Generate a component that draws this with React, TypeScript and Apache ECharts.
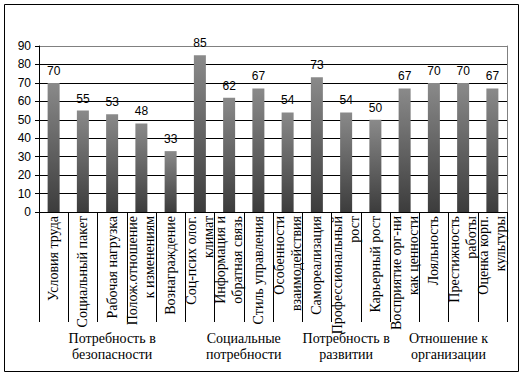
import React, { useEffect, useRef } from "react";
import * as echarts from "echarts";

const categories = [
  "Условия труда",
  "Социальный пакет",
  "Рабочая нагрузка",
  "Полож.отношение\nк изменениям",
  "Вознаграждение",
  "Соц-псих олог.\nклимат",
  "Информация и\nобратная связь",
  "Стиль управления",
  "Особенности\nвзаимодействия",
  "Самореализация",
  "Профессиональный\nрост",
  "Карьерный рост",
  "Восприятие орг-ни\nкак ценности",
  "Лояльность",
  "Престижность\nработы",
  "Оценка корп.\nкультуры",
];
const values = [70, 55, 53, 48, 33, 85, 62, 67, 54, 73, 54, 50, 67, 70, 70, 67];
const groupNames = [
  "Потребность в\nбезопасности",
  "Социальные\nпотребности",
  "Потребность в\nразвитии",
  "Отношение к\nорганизации",
];
const groupSizes = [5, 4, 3, 4];
const yTicks = [0, 10, 20, 30, 40, 50, 60, 70, 80, 90];

const SERIF = "Liberation Serif";
const SANS = "Liberation Sans";

export default function App() {
  const ref = useRef<HTMLDivElement>(null);
  useEffect(() => {
    document.body.style.margin = "0";
    if (!ref.current) return;
    const chart = echarts.init(ref.current, undefined, { renderer: "svg" });

    const n = categories.length;
    const halfData: string[] = new Array(2 * n + 1).fill("");
    const boundaryIdx: number[] = [0];
    let start = 0;
    groupSizes.forEach((s, i) => {
      const mid = start + s / 2;
      halfData[Math.round(mid * 2)] = groupNames[i];
      start += s;
      boundaryIdx.push(start * 2);
    });

    const splitColors = yTicks.map((t, i) => (i === yTicks.length - 1 ? "#808080" : "#000000"));

    chart.setOption({
      animation: false,
      graphic: [
        {
          type: "rect",
          shape: { x: 4.5, y: 4.5, width: 514, height: 367 },
          style: { fill: "none", stroke: "#000", lineWidth: 1 },
          silent: true,
        },
      ],
      grid: { left: 39, right: 17, top: 46, bottom: 164, containLabel: false },
      xAxis: [
        {
          type: "category",
          data: categories,
          position: "bottom",
          axisLine: { show: true, lineStyle: { color: "#000", width: 1 } },
          axisTick: { show: true, interval: 0, length: 110, lineStyle: { color: "#000" } },
          axisLabel: {
            interval: 0,
            rotate: 90,
            margin: 4,
            color: "#000",
            fontFamily: SERIF,
            fontSize: 14,
            lineHeight: 17,
          },
        },
        {
          type: "category",
          data: halfData,
          boundaryGap: false,
          position: "bottom",
          offset: 110,
          axisLine: { show: false },
          axisTick: {
            show: true,
            length: 40,
            interval: (idx: number) => boundaryIdx.indexOf(idx) >= 0,
            lineStyle: { color: "#000" },
          },
          axisLabel: {
            interval: (idx: number, v: string) => v !== "",
            margin: 8,
            color: "#000",
            fontFamily: SERIF,
            fontSize: 14,
            lineHeight: 16,
            align: "center",
          },
          splitLine: { show: false },
        },
      ],
      yAxis: [
        {
          type: "value",
          min: 0,
          max: 90,
          interval: 10,
          axisLine: { show: true, lineStyle: { color: "#000" } },
          axisTick: { show: true, length: 4, lineStyle: { color: "#000" } },
          axisLabel: {
            color: "#000",
            fontFamily: SANS,
            fontSize: 12,
            margin: 8,
          },
          splitLine: { show: true, lineStyle: { color: splitColors, width: 1 } },
        },
        {
          type: "value",
          position: "right",
          min: 0,
          max: 90,
          interval: 10,
          axisLine: { show: true, lineStyle: { color: "#808080" } },
          axisTick: { show: false },
          axisLabel: { show: false },
          splitLine: { show: false },
        },
      ],
      series: [
        {
          type: "bar",
          data: values,
          barWidth: 12,
          itemStyle: {
            color: new echarts.graphic.LinearGradient(0, 0, 0, 1, [
              { offset: 0, color: "#8a8a8a" },
              { offset: 1, color: "#3c3c3c" },
            ]),
          },
          label: {
            show: true,
            position: "top",
            distance: 6,
            color: "#000",
            fontFamily: SANS,
            fontSize: 12,
          },
        },
      ],
    });
    return () => chart.dispose();
  }, []);
  return <div ref={ref} style={{ width: 524, height: 376, background: "#fff" }} />;
}
